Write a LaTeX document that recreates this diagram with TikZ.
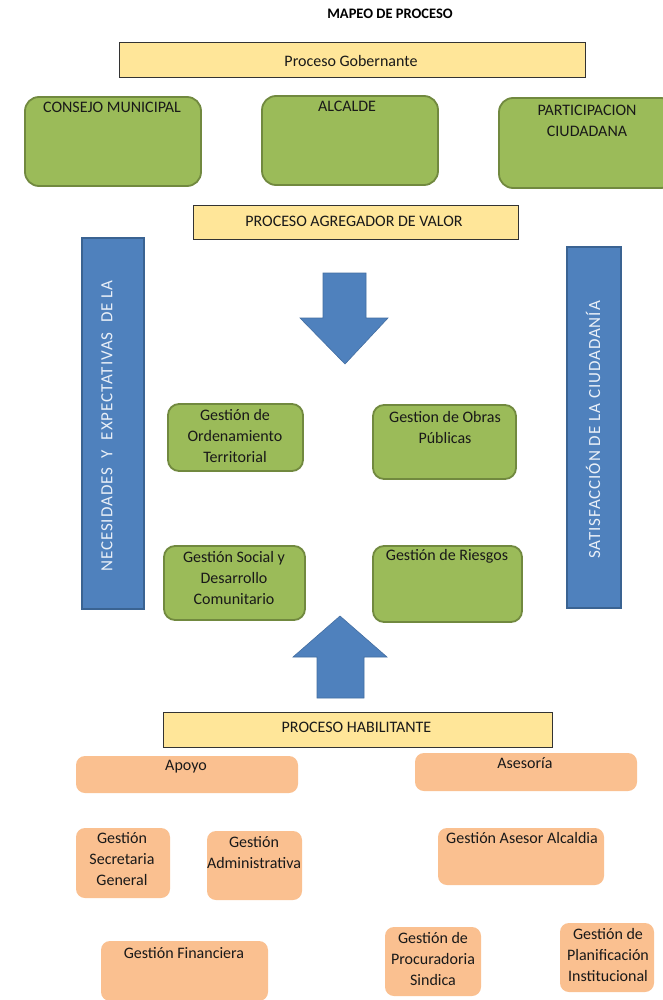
\documentclass[tikz,border=0pt]{standalone}
\usepackage{fontspec}
\setmainfont{Carlito}
\newfontfamily\barfont[LetterSpace=5.5]{Carlito}
\definecolor{gfill}{HTML}{9BBB59}
\definecolor{gdraw}{HTML}{71893F}
\definecolor{yfill}{HTML}{FFE699}
\definecolor{bfill}{HTML}{4F81BD}
\definecolor{bdraw}{HTML}{3A6392}
\definecolor{ofill}{HTML}{FAC090}
\definecolor{bartext}{HTML}{EAF0F8}
\begin{document}
\begin{tikzpicture}[x=1pt,y=-1pt,
  gbox/.style={draw=gdraw, fill=gfill, line width=1.8pt, rounded corners=14pt, inner sep=0pt},
  gmid/.style={gbox, rounded corners=11pt},
  ybox/.style={draw=black!80, fill=yfill, line width=1pt, inner sep=0pt},
  bbar/.style={draw=bdraw, fill=bfill, line width=1.4pt, inner sep=0pt},
  obox/.style={fill=ofill, rounded corners=9pt, inner sep=0pt},
  barrow/.style={fill=bfill, draw=bfill!85!black, line width=0.6pt},
  lbl/.style={font=\fontsize{16}{21}\selectfont, inner sep=0pt, align=center, text=black!90},
  bartxt/.style={font=\barfont\fontsize{17}{20}\selectfont, inner sep=0pt, text=bartext, rotate=90},
  ttl/.style={font=\bfseries\fontsize{14.5}{17}\selectfont, inner sep=0pt}
]
\useasboundingbox (0,0) rectangle (662,1000);
\fill[white] (0,0) rectangle (662,1000);

% title
\node[ttl] (title) at (390,14) {MAPEO DE PROCESO};

% Proceso gobernante
\node[ybox, minimum width=466pt, minimum height=35pt] (gob) at (352,60.5) {};
\node[lbl] (tgob) at (351,61) {Proceso Gobernante};

\node[gbox, minimum width=176pt, minimum height=89pt] (consejo) at (113,141.5) {};
\node[lbl] (tconsejo) at (112,107) {CONSEJO MUNICIPAL};
\node[gbox, minimum width=176pt, minimum height=89pt] (alcalde) at (350,140.5) {};
\node[lbl] (talcalde) at (347,106) {ALCALDE};
\node[gbox, minimum width=176pt, minimum height=90pt] (partic) at (587,143) {};
\node[lbl] (tpartic) at (587,120.5) {PARTICIPACION\\CIUDADANA};

% Proceso agregador
\node[ybox, minimum width=325pt, minimum height=33pt] (agreg) at (355.5,222.5) {};
\node[lbl] (tagreg) at (354,221.5) {PROCESO AGREGADOR DE VALOR};

% side bars
\node[bbar, minimum width=62pt, minimum height=371pt] (lbar) at (113,423.5) {};
\node[bartxt] (tlbar) at (107,426) {NECESIDADES\ \ Y\ \ EXPECTATIVAS\ \ DE LA};
\node[bbar, minimum width=54pt, minimum height=361pt] (rbar) at (594,427.5) {};
\node[bartxt] (trbar) at (593,430) {SATISFACCIÓN DE LA CIUDADANÍA};

% down arrow
\filldraw[barrow] (323,273) -- (366,273) -- (366,318) -- (388,318) -- (345,364)
  -- (300,318) -- (323,318) -- cycle;

% middle green boxes
\node[gmid, minimum width=135pt, minimum height=67pt] (orden) at (235.5,437.5) {};
\node[lbl] (torden) at (235,436.5) {Gestión de\\Ordenamiento\\Territorial};
\node[gmid, minimum width=143pt, minimum height=74pt] (obras) at (444.5,442) {};
\node[lbl] (tobras) at (445,427.5) {Gestion de Obras\\Públicas};
\node[gmid, minimum width=141pt, minimum height=74pt] (social) at (234.5,583) {};
\node[lbl] (tsocial) at (234,577.5) {Gestión Social y\\Desarrollo\\Comunitario};
\node[gmid, minimum width=149pt, minimum height=76pt] (riesgos) at (447.5,584) {};
\node[lbl] (triesgos) at (447,556) {Gestión de Riesgos};

% up arrow
\filldraw[barrow] (340,616) -- (387,657) -- (364,657) -- (364,698) -- (317,698)
  -- (317,657) -- (293,657) -- cycle;

% Proceso habilitante
\node[ybox, minimum width=389pt, minimum height=35pt] (habil) at (357.5,729.5) {};
\node[lbl] (thabil) at (356.5,727.5) {PROCESO HABILITANTE};

\node[obox, minimum width=222pt, minimum height=37pt] (apoyo) at (187,774.5) {};
\node[lbl] (tapoyo) at (186,767) {Apoyo};
\node[obox, minimum width=222pt, minimum height=38pt] (asesoria) at (526,772) {};
\node[lbl] (tasesoria) at (525,763) {Asesoría};

\node[obox, minimum width=94pt, minimum height=70pt] (secret) at (123,863) {};
\node[lbl] (tsecret) at (122,859.5) {Gestión\\Secretaria\\General};
\node[obox, minimum width=95pt, minimum height=69pt] (admin) at (254.5,865.5) {};
\node[lbl] (tadmin) at (254,852.5) {Gestión\\Administrativa};
\node[obox, minimum width=166pt, minimum height=57pt] (asesor) at (521,856.5) {};
\node[lbl] (tasesor) at (522,838) {Gestión Asesor Alcaldia};

\node[obox, minimum width=167pt, minimum height=60pt] (financ) at (184.5,971) {};
\node[lbl] (tfinanc) at (184,953) {Gestión Financiera};
\node[obox, minimum width=96pt, minimum height=69pt] (procur) at (433,961.5) {};
\node[lbl] (tprocur) at (433,959) {Gestión de\\Procuradoria\\Sindica};
\node[obox, minimum width=94pt, minimum height=69pt] (planif) at (607,957.5) {};
\node[lbl] (tplanif) at (608,955) {Gestión de\\Planificación\\Institucional};
\end{tikzpicture}
\end{document}
